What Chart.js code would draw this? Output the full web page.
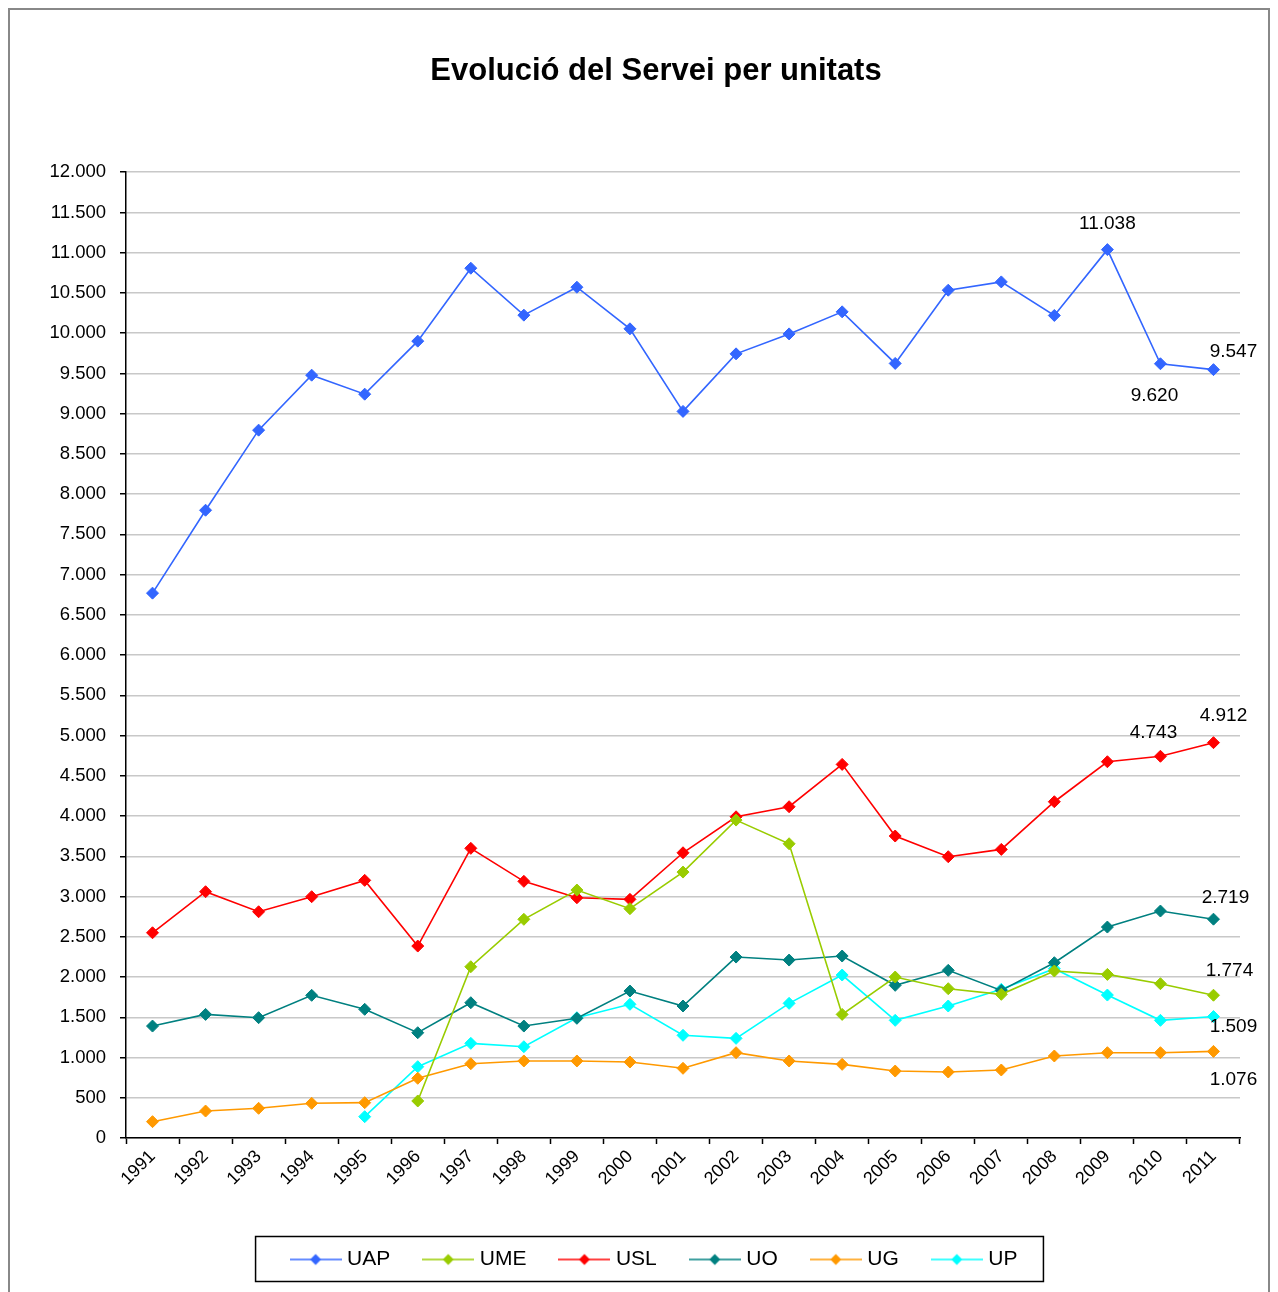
<!doctype html>
<html lang="ca">
<head>
  <meta charset="utf-8">
  <title>Evolució del Servei per unitats</title>
  <script src="https://cdn.jsdelivr.net/npm/chart.js"></script>
  <style>
    html, body { margin: 0; padding: 0; background: #fff; overflow: hidden; }
    #wrap { position: relative; width: 1278px; height: 1292px; overflow: hidden; }
    #frame { position: absolute; left: 8px; top: 8px; width: 1262px; height: 1320px;
             box-sizing: border-box; border: 2px solid #888; }
    canvas { position: absolute; left: 0; top: 0; }
  </style>
</head>
<body>
<div id="wrap">
  <div id="frame"></div>
  <canvas id="chart" width="1278" height="1292"></canvas>
</div>
<script>
  // dades
  const years = ['1991', '1992', '1993', '1994', '1995', '1996', '1997', '1998', '1999', '2000',
                 '2001', '2002', '2003', '2004', '2005', '2006', '2007', '2008', '2009', '2010', '2011'];
  const seriesNames = ['UAP', 'UME', 'USL', 'UO', 'UG', 'UP'];
  const uap = [6770, 7800, 8795, 9478, 9242, 9901, 10807, 10224, 10571, 10054, 9028,
               9743, 9991, 10265, 9624, 10534, 10637, 10220, 11038, 9620, 9547];
  const ume = [null, null, null, null, null, 460, 2128, 2717, 3081, 2849, 3304,
               3950, 3656, 1536, 2000, 1855, 1785, 2075, 2033, 1917, 1774];
  const usl = [2550, 3060, 2811, 2998, 3201, 2385, 3599, 3189, 2985, 2965, 3544,
               3991, 4116, 4642, 3752, 3495, 3586, 4178, 4675, 4743, 4912];
  const uo = [1391, 1536, 1495, 1773, 1599, 1308, 1681, 1391, 1487, 1826, 1640,
              2248, 2211, 2261, 1897, 2083, 1834, 2178, 2621, 2820, 2719];
  const ug = [203, 335, 369, 431, 439, 742, 923, 957, 957, 944, 866,
              1060, 957, 915, 832, 820, 845, 1019, 1060, 1060, 1076];
  const up = [null, null, null, null, 265, 886, 1176, 1134, 1495, 1661, 1276,
              1238, 1673, 2025, 1462, 1640, 1847, 2103, 1776, 1462, 1509];
  // punts amb etiqueta de valor: [serie, any]
  const labelledPoints = [['UAP', '2009'], ['UAP', '2010'], ['UAP', '2011'],
                          ['USL', '2010'], ['USL', '2011'], ['UO', '2011'],
                          ['UME', '2011'], ['UP', '2011'], ['UG', '2011']];

  const colors = ['#3366FF', '#99CC00', '#FF0000', '#008080', '#FF9900', '#00FFFF'];
  const allData = [uap, ume, usl, uo, ug, up];
  const FONT = "'Liberation Sans', Arial, sans-serif";

  function fmt(v) {
    return String(v).replace(/\B(?=(\d{3})+(?!\d))/g, '.');
  }

  // marcador de llegenda: linia amb rombe
  function legendMarker(color) {
    const c = document.createElement('canvas');
    c.width = 52; c.height = 14;
    const x = c.getContext('2d');
    x.strokeStyle = color; x.lineWidth = 1.5;
    x.beginPath(); x.moveTo(0, 7); x.lineTo(52, 7); x.stroke();
    x.fillStyle = color;
    x.beginPath(); x.moveTo(26, 1.5); x.lineTo(31.5, 7); x.lineTo(26, 12.5); x.lineTo(20.5, 7); x.closePath(); x.fill();
    return c;
  }

  const datasets = seriesNames.map(function (name, i) {
    return {
      label: name,
      data: allData[i],
      borderColor: colors[i],
      backgroundColor: colors[i],
      borderWidth: 1.6,
      pointStyle: 'rectRot',
      pointRadius: 6,
      pointBorderWidth: 1,
      pointBackgroundColor: colors[i],
      pointBorderColor: colors[i],
      tension: 0,
      spanGaps: false,
      legendMarker: legendMarker(colors[i])
    };
  });

  const labelOffsets = {
    'UAP2009': [0, -26], 'UAP2010': [-6, 32], 'UAP2011': [20, -18],
    'USL2010': [-7, -24], 'USL2011': [10, -27], 'UO2011': [12, -21],
    'UME2011': [16, -24], 'UP2011': [20, 10], 'UG2011': [20, 28]
  };

  const valueLabels = {
    id: 'valueLabels',
    afterDatasetsDraw(chart) {
      const ctx = chart.ctx;
      ctx.save();
      ctx.font = '19px ' + FONT;
      ctx.fillStyle = '#000';
      ctx.textAlign = 'center';
      ctx.textBaseline = 'middle';
      labelledPoints.forEach(function (lp) {
        const ds = seriesNames.indexOf(lp[0]);
        const idx = years.indexOf(lp[1]);
        const pt = chart.getDatasetMeta(ds).data[idx];
        const off = labelOffsets[lp[0] + lp[1]];
        ctx.fillText(fmt(allData[ds][idx]), pt.x + off[0], pt.y + off[1]);
      });
      ctx.restore();
    }
  };

  const legendBox = {
    id: 'legendBox',
    afterDraw(chart) {
      const boxes = chart.legend.legendHitBoxes;
      if (!boxes || !boxes.length) return;
      const first = boxes[0], last = boxes[boxes.length - 1];
      const cy = first.top + first.height / 2;
      const ctx = chart.ctx;
      ctx.save();
      ctx.strokeStyle = '#000';
      ctx.lineWidth = 1.5;
      ctx.strokeRect(first.left - 39, cy - 23, (last.left + last.width + 26) - (first.left - 39), 45);
      ctx.restore();
    }
  };

  new Chart(document.getElementById('chart'), {
    type: 'line',
    data: { labels: years, datasets: datasets },
    plugins: [valueLabels, legendBox],
    options: {
      responsive: false,
      animation: false,
      devicePixelRatio: 1,
      layout: { padding: { top: 0, left: 40, right: 6, bottom: 12 } },
      plugins: {
        title: {
          display: true,
          text: 'Evolució del Servei per unitats',
          color: '#000',
          font: { family: FONT, size: 31, weight: 'bold' },
          padding: { top: 53, bottom: 82 }
        },
        legend: {
          position: 'bottom',
          labels: {
            color: '#000',
            font: { family: FONT, size: 21 },
            usePointStyle: true,
            pointStyleWidth: 42,
            padding: 37,
            generateLabels(chart) {
              return chart.data.datasets.map(function (d, i) {
                return {
                  text: d.label,
                  fillStyle: d.borderColor,
                  strokeStyle: d.borderColor,
                  fontColor: '#000',
                  lineWidth: 0,
                  pointStyle: d.legendMarker,
                  datasetIndex: i
                };
              });
            }
          }
        },
        tooltip: { enabled: false }
      },
      scales: {
        x: {
          offset: true,
          grid: { offset: true, drawOnChartArea: false, drawTicks: true, tickLength: 6, tickColor: '#000', tickWidth: 1.5 },
          border: { display: true, color: '#000', width: 1.5 },
          ticks: { color: '#000', font: { family: FONT, size: 18 }, minRotation: 45, maxRotation: 45, padding: 2, autoSkip: false },
          afterFit(scale) { scale.height = 74; }
        },
        y: {
          min: 0,
          max: 12000,
          grid: { color: '#c8c8c8', lineWidth: 1.5, tickLength: 6, tickColor: '#000', tickWidth: 1.5 },
          border: { display: true, color: '#000', width: 1.5 },
          ticks: { stepSize: 500, color: '#000', font: { family: FONT, size: 18.5 }, padding: 14,
                   callback: function (v) { return fmt(v); } },
          afterFit(scale) { scale.width = 86; }
        },
        // eix buit a la dreta, nomes per reservar espai
        yRight: {
          position: 'right',
          display: true,
          grid: { display: false },
          border: { display: false },
          ticks: { display: false },
          afterFit(scale) { scale.width = 32; }
        }
      }
    }
  });
</script>
</body>
</html>
